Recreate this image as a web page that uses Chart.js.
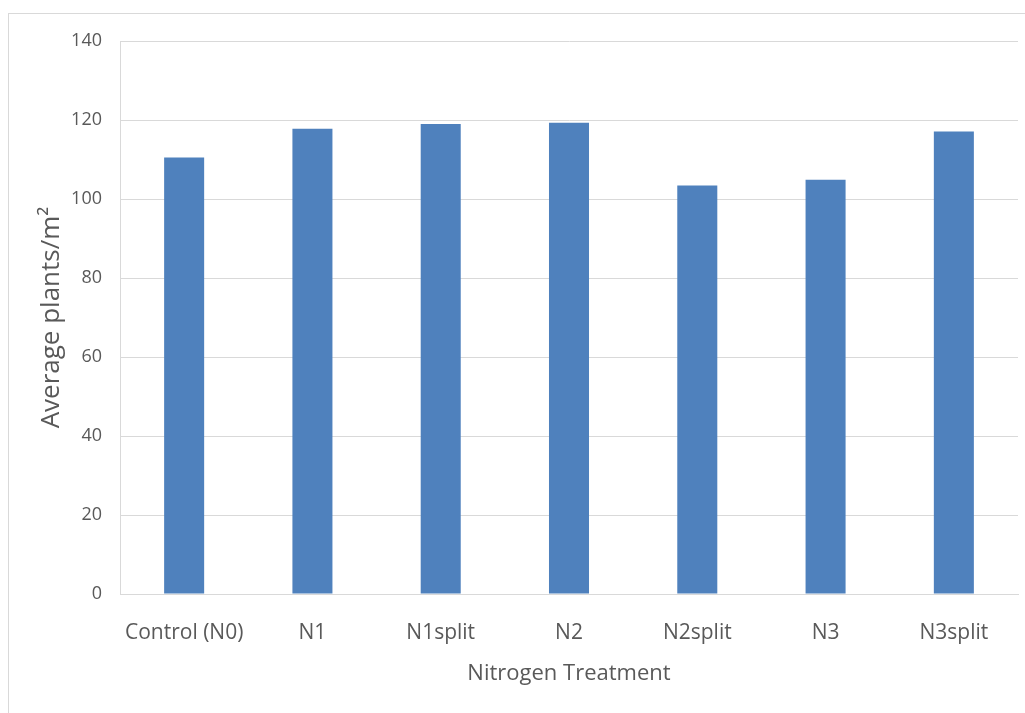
<!DOCTYPE html>
<html>
<head>
<meta charset="utf-8">
<title>Average plants per m² by nitrogen treatment</title>
<script src="https://cdn.jsdelivr.net/npm/chart.js@4/dist/chart.umd.min.js"></script>
<style>
  html, body { margin: 0; padding: 0; background: #ffffff; }
  #wrap { position: relative; width: 1025px; height: 713px; }
  canvas { display: block; }
</style>
</head>
<body>
<div id="wrap"><canvas id="chart" width="1025" height="713"></canvas></div>
<script>
// Treatments along the x axis
const treatments = ['Control (N0)', 'N1', 'N1split', 'N2', 'N2split', 'N3', 'N3split'];
// Average plant count per square metre for each treatment
const plantsPerM2 = [110.5, 117.8, 119.0, 119.3, 103.4, 104.9, 117.1];
// Y-axis range and step
const yMin = 0;
const yMax = 140;
const yStep = 20;

const textColor = '#595959';
const gridColor = '#d9d9d9';
const fontFamily = '"Open Sans", "Liberation Sans", sans-serif';

// Thin grey frame around the whole chart
const framePlugin = {
  id: 'frame',
  beforeDraw(chart) {
    const ctx = chart.ctx;
    ctx.save();
    ctx.fillStyle = '#ffffff';
    ctx.fillRect(0, 0, chart.width, chart.height);
    ctx.strokeStyle = '#d9d9d9';
    ctx.lineWidth = 1;
    ctx.strokeRect(8.5, 13.5, chart.width + 10, chart.height + 10);
    ctx.restore();
  }
};

new Chart(document.getElementById('chart'), {
  type: 'bar',
  data: {
    labels: treatments,
    datasets: [{
      label: 'Average plants/m²',
      data: plantsPerM2,
      backgroundColor: '#4f81bd',
      borderWidth: 0,
      categoryPercentage: 1.0,
      barPercentage: 0.312
    }]
  },
  options: {
    responsive: false,
    animation: false,
    devicePixelRatio: 1,
    layout: { padding: { top: 41, right: 7, bottom: 0, left: 0 } },
    plugins: {
      legend: { display: false },
      tooltip: { enabled: false }
    },
    scales: {
      x: {
        grid: { display: false, drawTicks: false },
        border: { display: true, color: gridColor, width: 1 },
        ticks: {
          color: textColor,
          font: { family: fontFamily, size: 21 },
          padding: 26,
          maxRotation: 0,
          autoSkip: false
        },
        title: {
          display: true,
          text: 'Nitrogen Treatment',
          color: textColor,
          font: { family: fontFamily, size: 22 },
          padding: { top: 0, bottom: 26 }
        },
        afterFit(scale) { scale.height = 119; }
      },
      y: {
        min: yMin,
        max: yMax,
        grid: { color: gridColor, lineWidth: 1, drawTicks: false },
        border: { display: true, color: gridColor, width: 1 },
        ticks: {
          stepSize: yStep,
          color: textColor,
          font: { family: fontFamily, size: 18 },
          padding: 18
        },
        title: {
          display: true,
          text: 'Average plants/m²',
          color: textColor,
          font: { family: fontFamily, size: 26 },
          padding: { top: 36, bottom: 0 }
        },
        afterFit(scale) { scale.width = 120; }
      }
    }
  },
  plugins: [framePlugin]
});
</script>
</body>
</html>
